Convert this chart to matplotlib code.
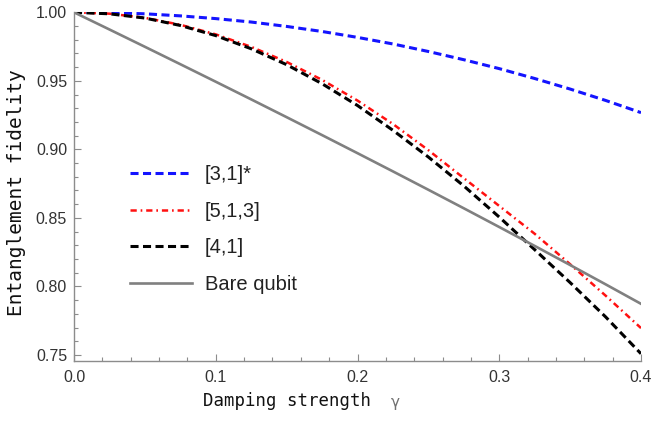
import matplotlib
matplotlib.use("Agg")
import matplotlib.pyplot as plt
from matplotlib.ticker import MultipleLocator, FormatStrFormatter

plt.rcParams['lines.scale_dashes'] = False

# Damping strength values
gamma = [0.0, 0.025, 0.05, 0.075, 0.1, 0.125, 0.15, 0.175, 0.2, 0.225,
         0.25, 0.275, 0.3, 0.325, 0.35, 0.375, 0.4]

# Entanglement fidelity series
f_31 = [1.0, 0.9997, 0.9989, 0.9974, 0.9954, 0.9929, 0.9897, 0.9860, 0.9817,
        0.9769, 0.9714, 0.9654, 0.9589, 0.9517, 0.9440, 0.9357, 0.9268]
f_513 = [1.0, 0.9990, 0.9960, 0.9909, 0.9839, 0.9748, 0.9638, 0.9507, 0.9356,
         0.9185, 0.8994, 0.8790, 0.8587, 0.8384, 0.8162, 0.7933, 0.7696]
f_41 = [1.0, 0.9989, 0.9958, 0.9904, 0.9830, 0.9734, 0.9618, 0.9479, 0.9320,
        0.9139, 0.8944, 0.8733, 0.8506, 0.8268, 0.8028, 0.7778, 0.7509]
f_bare = [1.0, 0.98746, 0.97484, 0.96213, 0.94934, 0.93646, 0.92348, 0.91040,
          0.89721, 0.88392, 0.87051, 0.85699, 0.84333, 0.82954, 0.81561,
          0.80154, 0.78730]

labels = ["[3,1]*", "[5,1,3]", "[4,1]", "Bare qubit"]
x_ticks = [0.0, 0.1, 0.2, 0.3, 0.4]
y_ticks = [0.75, 0.80, 0.85, 0.90, 0.95, 1.00]

W, H = 653, 424
fig = plt.figure(figsize=(W / 100, H / 100), dpi=100)
L, R, T, B = 74, 641, 12.3, 360.7
ax = fig.add_axes([L / W, 1 - B / H, (R - L) / W, (B - T) / H])

ax.plot(gamma, f_31, color="#1414ff", lw=2.2, dashes=(5.8, 3.2), label=labels[0])
ax.plot(gamma, f_513, color="#ff1010", lw=1.8, dashes=(4.5, 2.8, 1.2, 2.8), label=labels[1])
ax.plot(gamma, f_41, color="black", lw=2.2, dashes=(5.8, 3.2), label=labels[2])
ax.plot(gamma, f_bare, color="#808080", lw=1.9, label=labels[3])

ax.set_xlim(0.0, 0.4)
ax.set_ylim(0.7458, 1.0)
ax.set_xticks(x_ticks)
ax.set_yticks(y_ticks)
ax.xaxis.set_minor_locator(MultipleLocator(0.02))
ax.yaxis.set_minor_locator(MultipleLocator(0.01))
ax.xaxis.set_major_formatter(FormatStrFormatter('%.1f'))
ax.yaxis.set_major_formatter(FormatStrFormatter('%.2f'))

for s in ["top", "right"]:
    ax.spines[s].set_visible(False)
for s in ["left", "bottom"]:
    ax.spines[s].set_color("#8c8c8c")
    ax.spines[s].set_linewidth(1.0)

ax.tick_params(which="major", direction="in", length=5, width=0.8, color="#8c8c8c",
               labelsize=11.5, labelcolor="#333333", pad=5,
               labelfontfamily="Liberation Sans")
ax.tick_params(axis="x", which="major", pad=7)
ax.tick_params(which="minor", direction="in", length=3.2, width=0.8, color="#8c8c8c")

leg = ax.legend(loc="upper left", bbox_to_anchor=((130 - L) / (R - L), (B - 165) / (B - T)),
                frameon=False, borderpad=0, borderaxespad=0, handlelength=3.1,
                handletextpad=0.6, labelspacing=0.88,
                prop={"family": "Liberation Sans", "size": 14.5})
for t in leg.get_texts():
    t.set_color("#222222")

fig.text(203 / W, 1 - 401 / H, "Damping strength", ha="left", va="center",
         family="DejaVu Sans Mono", fontsize=12.5, color="#111111")
fig.text(391 / W, 1 - 402 / H, "γ", ha="left", va="center",
         family="DejaVu Sans", fontsize=11, color="#707070")
fig.text(17 / W, 1 - 192.5 / H, "Entanglement fidelity", ha="center", va="center",
         rotation=90, family="DejaVu Sans Mono", fontsize=14, color="#111111")

fig.savefig("out.png", dpi=100)
